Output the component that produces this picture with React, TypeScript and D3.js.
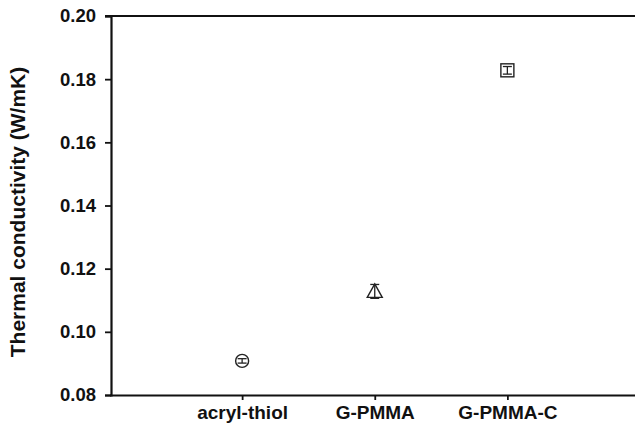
import React, { useEffect, useRef } from 'react';
import * as d3 from 'd3';

const categories = ['acryl-thiol', 'G-PMMA', 'G-PMMA-C'];
const conductivity = [0.0908, 0.1128, 0.1828];
const errors = [0.0007, 0.0022, 0.0012];
const markers = ['circle', 'triangle', 'square'];
const yTicks = [0.08, 0.10, 0.12, 0.14, 0.16, 0.18, 0.20];

const width = 635;
const height = 441;
const margin = { left: 111, right: -5, top: 16, bottom: 46 };

export default function App() {
  const ref = useRef<SVGSVGElement | null>(null);

  useEffect(() => {
    if (!ref.current) return;
    const svg = d3.select(ref.current);
    svg.selectAll('*').remove();

    const x = d3.scaleLinear().domain([0, 4]).range([margin.left - 1.5, width - margin.right]);
    const y = d3.scaleLinear().domain([0.08, 0.2]).range([height - margin.bottom, margin.top]);

    const font = '"Liberation Sans", Arial, sans-serif';

    // y axis
    const yAxis = svg.append('g')
      .attr('transform', `translate(${margin.left},0)`)
      .call(d3.axisLeft(y).tickValues(yTicks).tickFormat(d3.format('.2f')).tickSize(6).tickPadding(9));
    yAxis.select('.domain').attr('stroke', '#111').attr('stroke-width', 2.2);
    yAxis.selectAll('.tick line').attr('stroke', '#111').attr('stroke-width', 1.8);
    yAxis.selectAll('.tick text')
      .attr('font-family', font).attr('font-weight', 'bold').attr('font-size', 18.5).attr('fill', '#111');

    // x axis
    const xAxis = svg.append('g')
      .attr('transform', `translate(0,${y(0.08)})`)
      .call(d3.axisBottom(x).tickValues([1, 2, 3]).tickFormat((d) => categories[+d - 1]).tickSizeInner(5).tickSizeOuter(0).tickPadding(6));
    xAxis.select('.domain').attr('stroke', '#111').attr('stroke-width', 2.2);
    xAxis.selectAll('.tick line').attr('stroke', '#111').attr('stroke-width', 1.8);
    xAxis.selectAll('.tick text')
      .attr('font-family', font).attr('font-weight', 'bold').attr('font-size', 19).attr('fill', '#111');

    // top border
    svg.append('line')
      .attr('x1', margin.left - 6).attr('x2', width)
      .attr('y1', y(0.2)).attr('y2', y(0.2))
      .attr('stroke', '#111').attr('stroke-width', 2.2);

    // y title
    svg.append('text')
      .attr('transform', `translate(25,212) rotate(-90)`)
      .attr('text-anchor', 'middle')
      .attr('font-family', font).attr('font-weight', 'bold').attr('font-size', 21).attr('fill', '#111')
      .text('Thermal conductivity (W/mK)');

    const pts = svg.append('g');
    categories.forEach((c, i) => {
      const cx = x(i + 1);
      const cy = y(conductivity[i]);
      const m = markers[i];
      if (m === 'circle') {
        pts.append('circle').attr('cx', cx).attr('cy', cy).attr('r', 6.5)
          .attr('fill', 'none').attr('stroke', '#222').attr('stroke-width', 1.4);
      } else if (m === 'triangle') {
        const s = 7.5;
        pts.append('path')
          .attr('d', `M${cx},${cy - s}L${cx + s},${cy + s * 0.8}L${cx - s},${cy + s * 0.8}Z`)
          .attr('fill', 'none').attr('stroke', '#222').attr('stroke-width', 1.4);
      } else {
        pts.append('rect').attr('x', cx - 6.5).attr('y', cy - 6.5).attr('width', 13).attr('height', 13)
          .attr('fill', 'none').attr('stroke', '#222').attr('stroke-width', 1.4);
      }
      // error bar
      const y1 = y(conductivity[i] + errors[i]);
      const y2 = y(conductivity[i] - errors[i]);
      const cap = 4.5;
      pts.append('line').attr('x1', cx).attr('x2', cx).attr('y1', y1).attr('y2', y2)
        .attr('stroke', '#222').attr('stroke-width', 1.3);
      [y1, y2].forEach((yy) => {
        pts.append('line').attr('x1', cx - cap).attr('x2', cx + cap).attr('y1', yy).attr('y2', yy)
          .attr('stroke', '#222').attr('stroke-width', 1.3);
      });
    });
  }, []);

  return (
    <svg ref={ref} width={width} height={height}
      style={{ position: 'absolute', left: 0, top: 0, background: '#fff' }} />
  );
}
